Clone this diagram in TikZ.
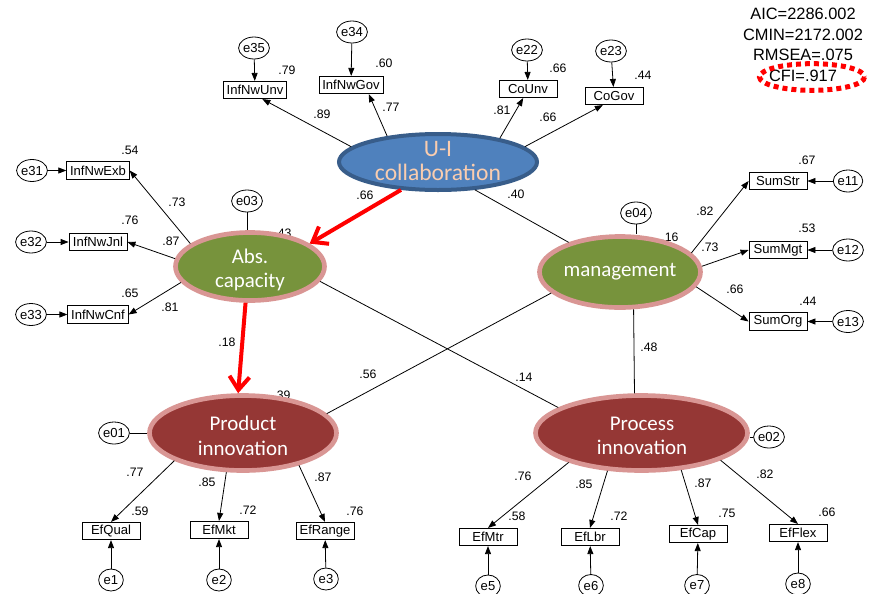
\documentclass[tikz,border=0pt]{standalone}
\usepackage{fontspec}
\setmainfont{Liberation Sans}
\newfontfamily\calibrifont{Carlito}
\usetikzlibrary{shapes.geometric,arrows.meta}

\definecolor{uiblue}{RGB}{79,129,189}
\definecolor{uiborder}{RGB}{56,93,138}
\definecolor{uitextcol}{RGB}{250,205,175}
\definecolor{latgreen}{RGB}{119,147,60}
\definecolor{latred}{RGB}{149,55,53}
\definecolor{latpink}{RGB}{217,150,148}

\tikzset{
  obs/.style={draw, line width=0.6pt, rectangle, minimum width=43.5pt, minimum height=13pt, inner xsep=2.5pt, inner ysep=1pt, font=\fontsize{9.8}{10}\selectfont},
  err/.style={draw, line width=0.6pt, ellipse, minimum width=18.5pt, minimum height=16.5pt, inner sep=0pt, font=\fontsize{9.8}{10}\selectfont},
  latent/.style={ellipse, draw=latpink, line width=3.5pt, inner sep=0pt},
  lattext/.style={align=center, text=white, inner sep=0pt, font=\calibrifont\fontsize{15.7}{18.5}\selectfont},
  coef/.style={inner sep=0pt, font=\fontsize{9.2}{10}\selectfont},
  loadarr/.style={line width=0.6pt, -{Triangle[length=6pt,width=4.5pt]}},
  errline/.style={line width=0.6pt},
  redarr/.style={draw=red, line width=3pt, -{Straight Barb[length=10pt,width=15pt]}},
  fitstat/.style={align=center, inner sep=0pt, font=\fontsize{12.3}{15.5}\selectfont},
  cfiring/.style={draw=red, line width=3.75pt, dash pattern=on 3.75pt off 3pt}
}

\begin{document}
\begin{tikzpicture}[x=0.75pt,y=0.75pt,yscale=-1,xscale=1]
\useasboundingbox (0,0) rectangle (877,593);

% coefficients that sit under the ellipses
\node[coef] (c43) at (283,233) {.43};
\node[coef] (c39) at (282,395) {.39};
\node[coef] (c16) at (670,237) {.16};

% latent variables
\node[latent, fill=uiblue, draw=uiborder, line width=3pt, minimum width=148.5pt, minimum height=42pt] (ui) at (438,162) {};
\node[lattext, text=uitextcol, font=\calibrifont\fontsize{17.7}{17.6}\selectfont] (uitxt) at (438,161) {U-I\\collaboration};
\node[latent, fill=latgreen, minimum width=111.75pt, minimum height=51pt] (abs) at (250,266.5) {};
\node[lattext, font=\calibrifont\fontsize{15.7}{17.5}\selectfont] (abstxt) at (250,270) {Abs.\\capacity};
\node[latent, fill=latgreen, minimum width=120.75pt, minimum height=53.25pt] (mgmt) at (620,272) {};
\node[lattext] (mgmttxt) at (620,272) {management};
\node[latent, fill=latred, minimum width=140.25pt, minimum height=56.25pt] (prod) at (243,433) {};
\node[lattext] (prodtxt) at (243,436) {Product\\innovation};
\node[latent, fill=latred, minimum width=159pt, minimum height=56.25pt] (proc) at (641.5,433) {};
\node[lattext] (proctxt) at (642,436) {Process\\innovation};

% observed variables
\node[obs] (unv) at (255,90) {InfNwUnv};
\node[obs] (gov) at (351,85) {InfNwGov};
\node[obs] (counv) at (528,89) {CoUnv};
\node[obs] (cogov) at (614,96) {CoGov};
\node[obs] (exb) at (98,170.5) {InfNwExb};
\node[obs] (jnl) at (98,242) {InfNwJnl};
\node[obs] (cnf) at (98,314.5) {InfNwCnf};
\node[obs] (sumstr) at (778,181) {SumStr};
\node[obs] (summgt) at (778,250) {SumMgt};
\node[obs] (sumorg) at (778,321.5) {SumOrg};
\node[obs] (efqual) at (111,531) {EfQual};
\node[obs] (efmkt) at (219,530) {EfMkt};
\node[obs] (efrange) at (325,531) {EfRange};
\node[obs] (efmtr) at (488,537) {EfMtr};
\node[obs] (eflbr) at (590,537) {EfLbr};
\node[obs] (efcap) at (698,534) {EfCap};
\node[obs] (efflex) at (798,533) {EfFlex};

% error terms
\node[err] (e35) at (254,48) {e35};
\node[err] (e34) at (352,32) {e34};
\node[err] (e22) at (527,50) {e22};
\node[err] (e23) at (611,51) {e23};
\node[err] (e31) at (32,170.5) {e31};
\node[err] (e32) at (31,242) {e32};
\node[err] (e33) at (31,314.5) {e33};
\node[err] (e03) at (247,201) {e03};
\node[err] (e04) at (636,213) {e04};
\node[err] (e11) at (848,181) {e11};
\node[err] (e12) at (848,250) {e12};
\node[err] (e13) at (848,321.5) {e13};
\node[err] (e01) at (114,433) {e01};
\node[err] (e02) at (769,437) {e02};
\node[err] (e1) at (111,580) {e1};
\node[err] (e2) at (219,580) {e2};
\node[err] (e3) at (326,579) {e3};
\node[err] (e5) at (488,586) {e5};
\node[err] (e6) at (591,585.5) {e6};
\node[err] (e7) at (697,585.5) {e7};
\node[err] (e8) at (798,584) {e8};

% structural lines
\draw[errline] (ui.-37) -- (mgmt.150);
\draw[errline] (abs.-12) -- (proc.163);
\draw[errline] (mgmt.197) -- (prod.13);
\draw[errline] (mgmt.-70) -- (proc.100);
\draw[redarr] (ui.-143) -- (abs.21);
\draw[redarr] (abs.-97) -- (prod.97);

% loadings
\draw[loadarr] (ui.170) -- (unv.-51);
\draw[loadarr] (ui.153) -- (gov.-27);
\draw[loadarr] (ui.21) -- (counv.-118);
\draw[loadarr] (ui.10) -- (cogov.-141);
\draw[loadarr] (abs.159) -- (exb.east);
\draw[loadarr] (abs.174) -- (jnl.east);
\draw[loadarr] (abs.193) -- (cnf.east);
\draw[loadarr] (mgmt.15) -- (sumstr.west);
\draw[loadarr] (mgmt.4) -- (summgt.west);
\draw[loadarr] (mgmt.-11) -- (sumorg.west);
\draw[loadarr] (prod.-158) -- (efqual.north);
\draw[loadarr] (prod.-113) -- (efmkt.north);
\draw[loadarr] (prod.-30) -- (efrange.north);
\draw[loadarr] (proc.-158) -- (efmtr.north);
\draw[loadarr] (proc.-132) -- (eflbr.north);
\draw[loadarr] (proc.-43) -- (efcap.north);
\draw[loadarr] (proc.-19) -- (efflex.north);

% error arrows
\draw[loadarr] (e35) -- (unv);
\draw[loadarr] (e34) -- (gov);
\draw[loadarr] (e22) -- (counv);
\draw[loadarr] (e23) -- (cogov);
\draw[loadarr] (e31) -- (exb);
\draw[loadarr] (e32) -- (jnl);
\draw[loadarr] (e33) -- (cnf);
\draw[loadarr] (e11) -- (sumstr);
\draw[loadarr] (e12) -- (summgt);
\draw[loadarr] (e13) -- (sumorg);
\draw[loadarr] (e1) -- (efqual);
\draw[loadarr] (e2) -- (efmkt);
\draw[loadarr] (e3) -- (efrange);
\draw[loadarr] (e5) -- (efmtr);
\draw[loadarr] (e6) -- (eflbr);
\draw[loadarr] (e7) -- (efcap);
\draw[loadarr] (e8) -- (efflex);
\draw[errline] (e03) -- (e03 |- abs.north);
\draw[errline] (e04) -- (e04 |- mgmt.north);
\draw[errline] (e01) -- (prod);
\draw[errline] (e02) -- (e02 -| proc.east);

% coefficients
\node[coef] (c79) at (287,70) {.79};
\node[coef] (c60) at (384,63) {.60};
\node[coef] (c89) at (322,114) {.89};
\node[coef] (c77a) at (391,107) {.77};
\node[coef] (c66a) at (558,68) {.66};
\node[coef] (c44a) at (643,75) {.44};
\node[coef] (c81a) at (502,110) {.81};
\node[coef] (c66b) at (548,117) {.66};
\node[coef] (c54) at (130,150) {.54};
\node[coef] (c73a) at (177,202) {.73};
\node[coef] (c76a) at (130,220) {.76};
\node[coef] (c87a) at (171,241) {.87};
\node[coef] (c65) at (130,293) {.65};
\node[coef] (c81b) at (170,307) {.81};
\node[coef] (c66c) at (365,195) {.66};
\node[coef] (c18) at (227,342) {.18};
\node[coef] (c40) at (516,194) {.40};
\node[coef] (c82a) at (705,211) {.82};
\node[coef] (c73b) at (710,247) {.73};
\node[coef] (c67) at (807,160) {.67};
\node[coef] (c53) at (807,228) {.53};
\node[coef] (c66d) at (735,289) {.66};
\node[coef] (c44b) at (808,301) {.44};
\node[coef] (c48) at (649,347) {.48};
\node[coef] (c56) at (368,374) {.56};
\node[coef] (c14) at (524,377) {.14};
\node[coef] (c77b) at (135,472) {.77};
\node[coef] (c59) at (140,511) {.59};
\node[coef] (c85a) at (207,482) {.85};
\node[coef] (c72a) at (248,510) {.72};
\node[coef] (c87b) at (323,477) {.87};
\node[coef] (c76b) at (355,511) {.76};
\node[coef] (c76c) at (523,476) {.76};
\node[coef] (c58) at (517,516) {.58};
\node[coef] (c85b) at (584,484) {.85};
\node[coef] (c72b) at (619,516) {.72};
\node[coef] (c87c) at (703,483) {.87};
\node[coef] (c75) at (727,513) {.75};
\node[coef] (c82b) at (765,474) {.82};
\node[coef] (c66e) at (827,512) {.66};

% fit statistics
\node[fitstat] (fit) at (803,45) {AIC=2286.002\\CMIN=2172.002\\RMSEA=.075\\CFI=.917};
\draw[cfiring] (812,77) ellipse [x radius=39.4pt, y radius=10pt];
\end{tikzpicture}
\end{document}
